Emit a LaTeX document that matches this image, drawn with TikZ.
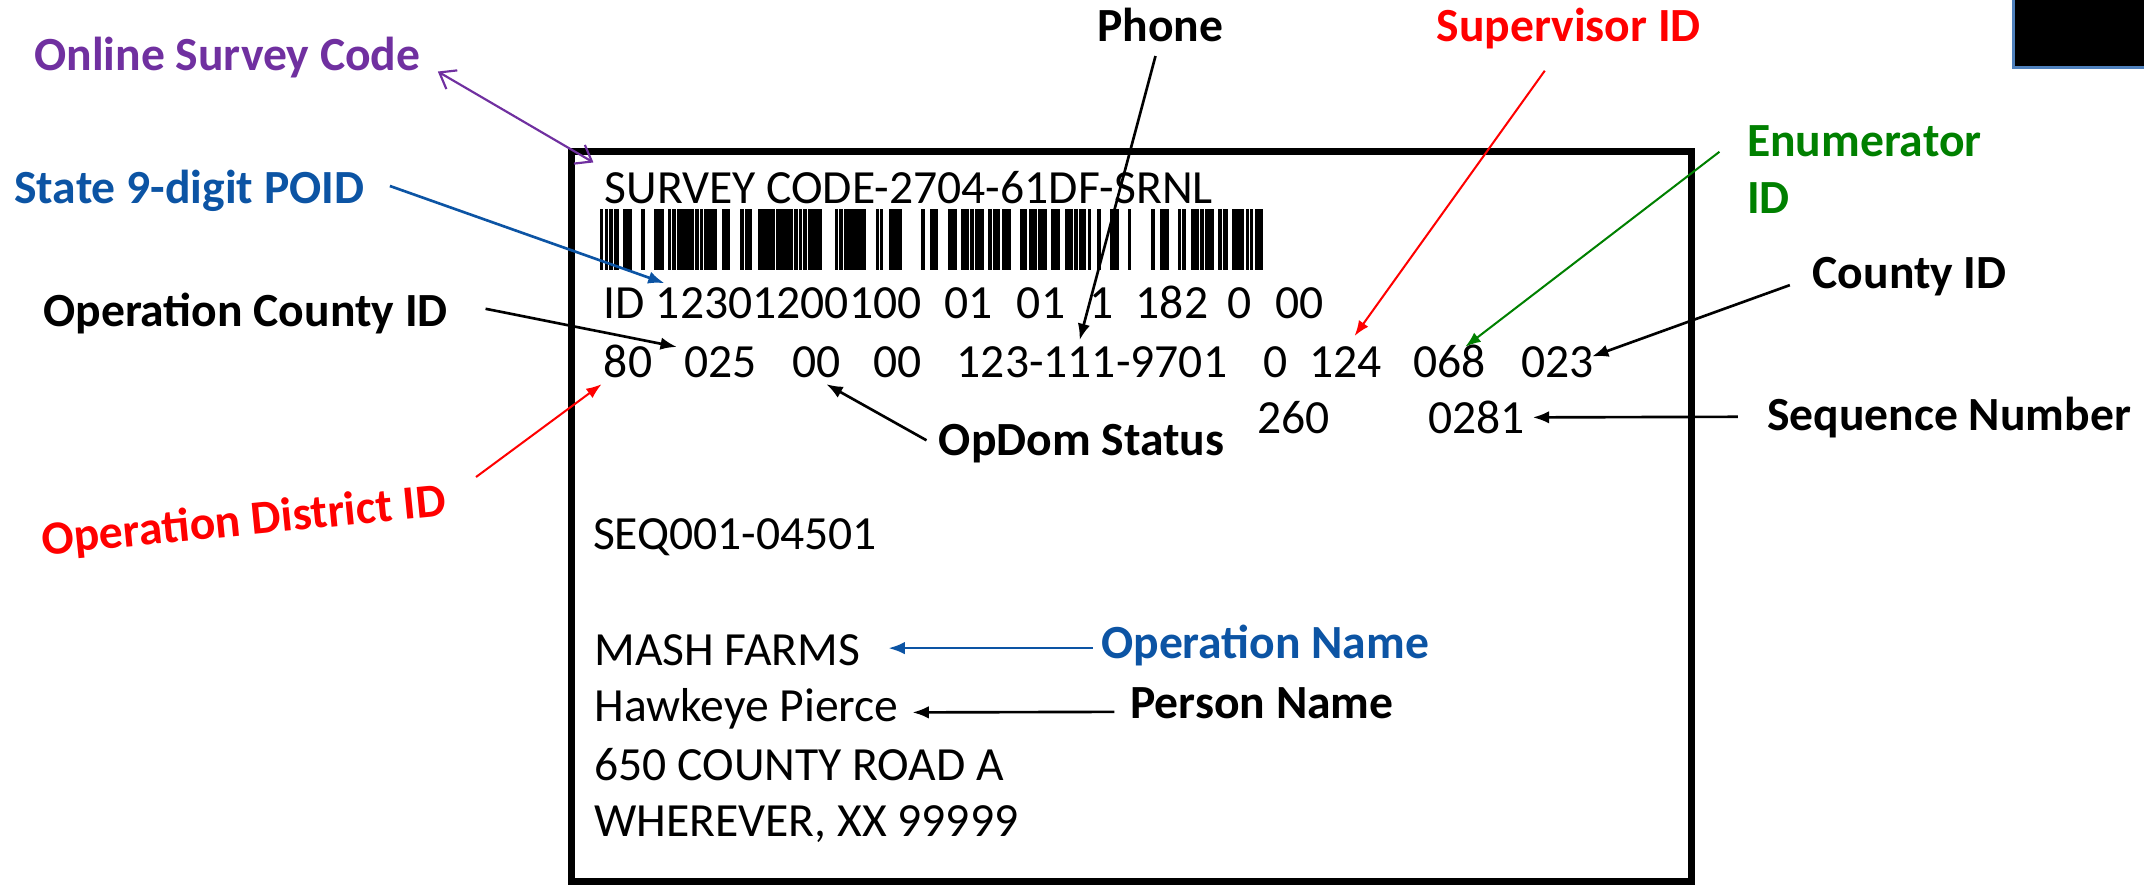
\documentclass[tikz,border=0pt]{standalone}
\usepackage{fontspec}
\setmainfont{Carlito}
\usetikzlibrary{arrows.meta, calc}
\definecolor{surveyPurple}{RGB}{112, 48, 160}
\definecolor{poidBlue}{RGB}{12, 84, 164}
\definecolor{idRed}{RGB}{255, 0, 0}
\definecolor{enumGreen}{RGB}{0, 128, 0}
\definecolor{frameBlue}{RGB}{79, 129, 189}
\tikzstyle{body} = [inner sep=0, anchor=base west, font=\fontsize{9.9}{11.9}\selectfont]
\tikzstyle{fieldlabel} = [inner sep=0, anchor=base west, font=\fontsize{9.9}{11.9}\selectfont\bfseries]
\tikzstyle{pointer} = [line width=0.55pt, -{Latex[length=3.4pt,width=2.6pt]}]
\tikzstyle{thinpointer} = [line width=0.42pt, -{Latex[length=3.2pt,width=2.4pt]}]

\begin{document}
\begin{tikzpicture}[x=0.01cm, y=-0.01cm]
			\useasboundingbox (0,0) rectangle (1568,647);
			\draw[line width=1.5pt] (418,110.5) rectangle (1237,644.5);
			\draw[frameBlue, fill=black, line width=0.6pt] (1472.6,-5) rectangle (1580,49.5);
			
			% barcode
			\pgfmathsetseed{12}
			\foreach \i in {0,...,147}{
				\pgfmathparse{rnd}\let\r\pgfmathresult
				\ifdim\r pt>0.3pt \fill (439+3.3*\i,153) rectangle ++(1.5+2.2*\r,44.5);\fi
			}
			
			\node (code) [body] at (441.5,149) {SURVEY CODE-2704-61DF-SRNL};
			\foreach \x/\t [count=\i] in {441/ID 12301200100, 690/01, 743/01, 796/1, 830/182, 897/0, 932/00}
				\node (top\i) [body] at (\x,233) {\t};
			\foreach \x/\t [count=\i] in {441/80, 500/025, 579/00, 638/00, 699/123-111-9701, 923/0, 957/124, 1033/068, 1112/023}
				\node (mid\i) [body] at (\x,276) {\t};
			\node (low1) [body] at (919,317) {260};
			\node (low2) [body] at (1044,317) {0281};
			\node (seq) [body] at (433,402) {SEQ001-04501};
			\node (mash) [body] at (434,486.5) {MASH FARMS};
			\node (hawk) [body] at (434,528) {Hawkeye Pierce};
			\node (road) [body] at (434,570.6) {650 COUNTY ROAD A};
			\node (town) [body] at (434,612) {WHEREVER, XX 99999};
			
			\node (osc) [fieldlabel, surveyPurple] at (24.5,51.3) {Online Survey Code};
			\node (poid) [fieldlabel, poidBlue] at (9.8,148.8) {State 9-digit POID};
			\node (ocid) [fieldlabel] at (31,238.6) {Operation County ID};
			\node (odid) [fieldlabel, idRed, rotate=5.6] at (31,406) {Operation District ID};
			\node (phone) [fieldlabel] at (801.8,30.5) {Phone};
			\node (sup) [fieldlabel, idRed] at (1050,30) {Supervisor ID};
			\node (enum) [fieldlabel, enumGreen] at (1277,114.6) {Enumerator};
			\node (enumid) [fieldlabel, enumGreen] at (1277,156) {ID};
			\node (cid) [fieldlabel] at (1325,210.8) {County ID};
			\node (seqn) [fieldlabel] at (1291.7,314.6) {Sequence Number};
			\node (opdom) [fieldlabel] at (686,333) {OpDom Status};
			\node (opname) [fieldlabel, poidBlue] at (804.7,481.5) {Operation Name};
			\node (pname) [fieldlabel] at (826,525.4) {Person Name};
			
			\draw[surveyPurple, line width=0.45pt, {Straight Barb[length=3pt,width=4.5pt]}-{Straight Barb[length=3pt,width=4.5pt]}] ([shift={(12,1)}]osc.base east) -- ([shift={(-7.5,-6)}]code.north west);
			\draw[pointer, poidBlue] ([shift={(18,-12.8)}]poid.base east) -- ([shift={(45,-2.6)}]top1.north west);
			\draw[pointer] ([shift={(27,-12.8)}]ocid.base east) -- ([shift={(-5,1)}]mid2.north west);
			\draw[thinpointer, idRed] ([shift={(23,-3)}]odid.north east) -- ([shift={(-1,4)}]mid1.south west);
			\draw[pointer] ([shift={(-3.5,9.5)}]phone.south) -- ([shift={(-9,-4)}]mid5.north);
			\draw[thinpointer, idRed] ([shift={(-17.5,21.7)}]sup.base) -- ([shift={(6.5,-7)}]mid7.north);
			\draw[thinpointer, enumGreen] ([shift={(-19.5,-3.6)}]enum.base west) -- ([shift={(11.5,2)}]mid8.north);
			\draw[pointer] ([shift={(-16,-2.3)}]cid.base west) -- ([shift={(-2,8)}]mid9.north east);
			\draw[pointer] ([shift={(-20.7,-9.8)}]seqn.base west) -- ([shift={(5,0)}]low2.east);
			\draw[pointer] ([shift={(-8.4,-11)}]opdom.base west) -- ([shift={(7,4)}]mid3.south);
			\draw[pointer, poidBlue] ([shift={(-5.7,-7.5)}]opname.base west) -- ([shift={(20,-12.5)}]mash.base east);
			\draw[pointer] ([shift={(-11,-4.8)}]pname.base west) -- ([shift={(9.6,-7)}]hawk.base east);
\end{tikzpicture}
\end{document}
